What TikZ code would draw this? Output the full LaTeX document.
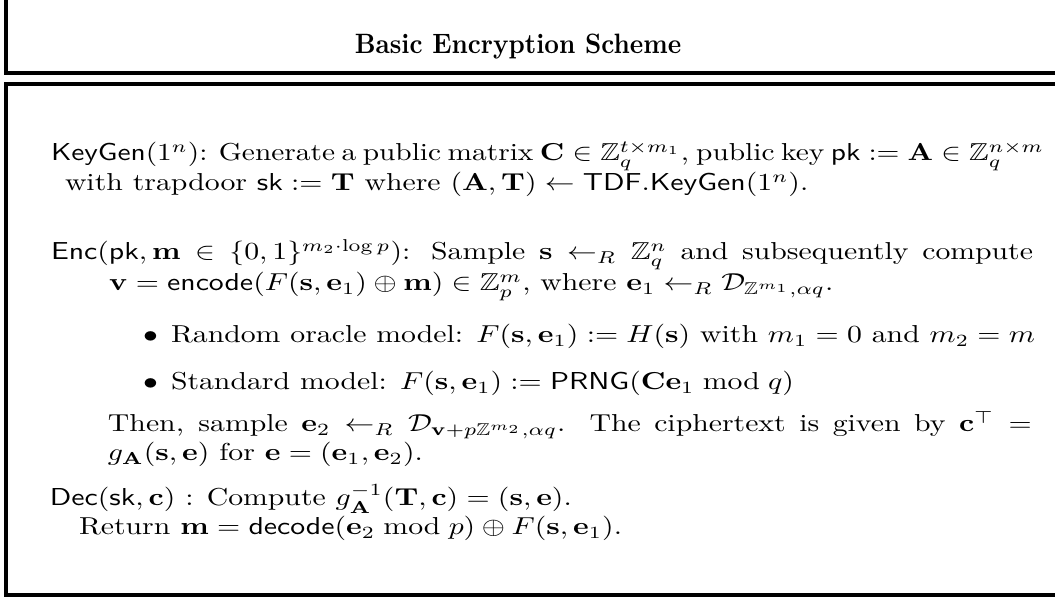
\documentclass[tikz,border=0pt]{standalone}
\usepackage{amssymb}
\usepackage{graphicx}
\newcommand{\stx}[1]{\scalebox{1.19}[0.98]{#1}}
\tikzset{
  frameline/.style={line width=1.6pt, line cap=butt, line join=miter},
  txt/.style={anchor=base west, inner sep=0pt, outer sep=0pt},
}
\begin{document}
\begin{tikzpicture}[x=0.4pt,y=-0.4pt]
\useasboundingbox (0,0) rectangle (1055,597);
% frames
\coordinate (tl) at (6,-10);
\coordinate (tb) at (1065,73);
\coordinate (bt) at (1065,84.5);
\coordinate (bl) at (6,595);
\coordinate (br) at (1065,595);
\draw[frameline] (tl) |- (tb);
\draw[frameline] (bt) -| (bl) -- (br);
% title
\node[anchor=base, inner sep=0pt] (title) at (518,54) {\scalebox{1.02}[1.12]{\bfseries Basic Encryption Scheme}};
% body
\node[txt] (kg1) at (51,161) {\scalebox{1.175}[0.98]{\hbox to 336pt{$\mathsf{KeyGen}(1^n)$: Generate a public matrix $\mathbf{C}\in\mathbb{Z}_q^{t\times m_1}$, public key $\mathsf{pk}:=\mathbf{A}\in\mathbb{Z}_q^{n\times m}$}}};
\node[txt] (kg2) at (65,191) {\stx{with trapdoor $\mathsf{sk}:=\mathbf{T}$ where $(\mathbf{A},\mathbf{T})\leftarrow\mathsf{TDF.KeyGen}(1^n)$.}};
\node[txt] (enc1) at (51,260) {\stx{\hbox to 330.1pt{$\mathsf{Enc}(\mathsf{pk},\mathbf{m}\in\{0,1\}^{m_2\cdot\log p})$: Sample $\mathbf{s}\leftarrow_R\mathbb{Z}_q^n$ and subsequently compute}}};
\node[txt] (enc2) at (109,291) {\stx{$\mathbf{v}=\mathsf{encode}(F(\mathbf{s},\mathbf{e}_1)\oplus\mathbf{m})\in\mathbb{Z}_p^m$, where $\mathbf{e}_1\leftarrow_R\mathcal{D}_{\mathbb{Z}^{m_1},\alpha q}$.}};
\node[txt] (b1) at (143,343) {\stx{$\bullet$}};
\node[txt] (it1) at (171,343) {\stx{Random oracle model: $F(\mathbf{s},\mathbf{e}_1):=H(\mathbf{s})$ with $m_1=0$ and $m_2=m$}};
\node[txt] (b2) at (143,390) {\stx{$\bullet$}};
\node[txt] (it2) at (171,390) {\stx{Standard model: $F(\mathbf{s},\mathbf{e}_1):=\mathsf{PRNG}(\mathbf{C}\mathbf{e}_1\bmod q)$}};
\node[txt] (then1) at (108,432) {\stx{\hbox to 310.5pt{Then, sample $\mathbf{e}_2\leftarrow_R\mathcal{D}_{\mathbf{v}+p\mathbb{Z}^{m_2},\alpha q}$. The ciphertext is given by $\mathbf{c}^\top=$}}};
\node[txt] (then2) at (108,461) {\stx{$g_{\mathbf{A}}(\mathbf{s},\mathbf{e})$ for $\mathbf{e}=(\mathbf{e}_1,\mathbf{e}_2)$.}};
\node[txt] (dec1) at (50,506) {\stx{$\mathsf{Dec}(\mathsf{sk},\mathbf{c})$ : Compute $g_{\mathbf{A}}^{-1}(\mathbf{T},\mathbf{c})=(\mathbf{s},\mathbf{e})$.}};
\node[txt] (dec2) at (79,535) {\stx{Return $\mathbf{m}=\mathsf{decode}(\mathbf{e}_2\bmod p)\oplus F(\mathbf{s},\mathbf{e}_1)$.}};
\end{tikzpicture}
\end{document}
